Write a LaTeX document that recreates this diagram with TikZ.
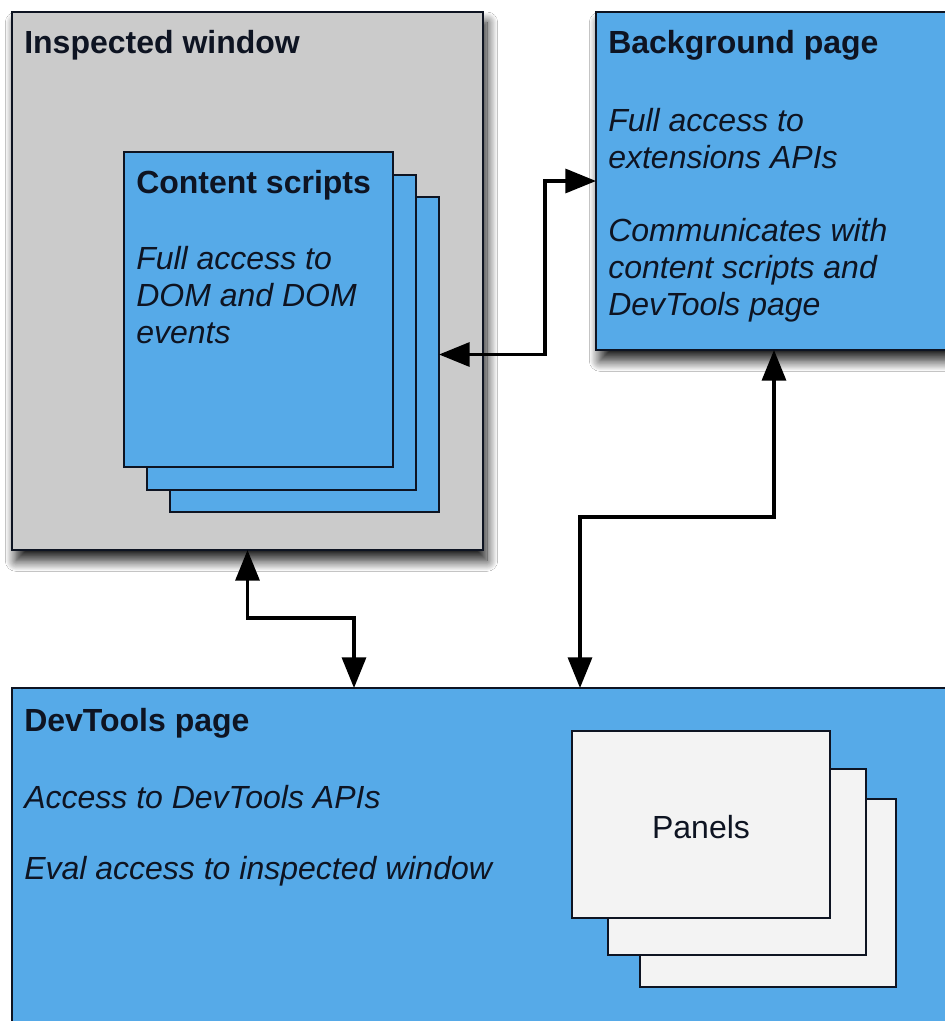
\documentclass[tikz,border=0pt]{standalone}
\usepackage{fontspec}
\setmainfont{Liberation Sans}
\usetikzlibrary{arrows.meta,shadows.blur,fit}
\definecolor{boxblue}{RGB}{86,170,232}
\definecolor{boxgray}{RGB}{203,203,203}
\definecolor{panelgray}{RGB}{243,243,243}
\definecolor{ink}{RGB}{14,20,34}
\begin{document}
\begin{tikzpicture}[x=0.75pt,y=-0.75pt,
  box/.style={draw=ink, line width=1.5pt, inner sep=0pt, outer sep=0pt},
  shad/.style={blur shadow={shadow xshift=3pt, shadow yshift=-8pt, shadow blur radius=8pt, shadow blur steps=16, shadow opacity=90}},
  title/.style={anchor=base west, inner sep=0pt, font=\fontsize{24}{28}\selectfont\bfseries, text=ink},
  desc/.style={anchor=base west, inner sep=0pt, font=\fontsize{24}{28}\selectfont\itshape, text=ink},
  plain/.style={inner sep=0pt, font=\fontsize{24}{28}\selectfont, text=ink},
  conn/.style={draw=black, line width=2.5pt, line join=miter,
    {Triangle[length=23pt,width=18pt]}-{Triangle[length=23pt,width=18pt]}}]
\path[use as bounding box] (0,0) rectangle (945,1021);
\clip (0,0) rectangle (945,1021);
\fill[white] (0,0) rectangle (945,1021);

% Inspected window
\coordinate (iw1) at (12,12); \coordinate (iw2) at (483,550);
\node[box, shad, fill=boxgray, fit=(iw1)(iw2)] (iw) {};
\node[title] (iwT) at (24,53) {Inspected window};

% Content scripts stack
\coordinate (c31) at (170,197); \coordinate (c32) at (439,512);
\node[box, fill=boxblue, fit=(c31)(c32)] (cs3) {};
\coordinate (c21) at (147,175); \coordinate (c22) at (416,490);
\node[box, fill=boxblue, fit=(c21)(c22)] (cs2) {};
\coordinate (c11) at (124,152); \coordinate (c12) at (393,467);
\node[box, fill=boxblue, fit=(c11)(c12)] (cs1) {};
\node[title] (csT) at (136,193) {Content scripts};
\node[desc] (csL1) at (136,269) {Full access to};
\node[desc] (csL2) at (136,306) {DOM and DOM};
\node[desc] (csL3) at (136,343) {events};

% Background page
\coordinate (bg1) at (596,12); \coordinate (bg2) at (952,350);
\node[box, shad, fill=boxblue, fit=(bg1)(bg2)] (bg) {};
\node[title] (bgT) at (608,53) {Background page};
\node[desc] (bgL1) at (608,131) {Full access to};
\node[desc] (bgL2) at (608,168) {extensions APIs};
\node[desc] (bgL3) at (608,241) {Communicates with};
\node[desc] (bgL4) at (608,278) {content scripts and};
\node[desc] (bgL5) at (608,315) {DevTools page};

% DevTools page
\coordinate (dt1) at (12,688); \coordinate (dt2) at (960,1035);
\node[box, fill=boxblue, fit=(dt1)(dt2)] (dt) {};
\node[title] (dtT) at (24,731) {DevTools page};
\node[desc] (dtL1) at (24,808) {Access to DevTools APIs};
\node[desc] (dtL2) at (24,879) {Eval access to inspected window};

% Panels stack
\coordinate (p31) at (640,799); \coordinate (p32) at (896,987);
\node[box, fill=panelgray, fit=(p31)(p32)] (p3) {};
\coordinate (p21) at (608,769); \coordinate (p22) at (866,955);
\node[box, fill=panelgray, fit=(p21)(p22)] (p2) {};
\coordinate (p11) at (572,731); \coordinate (p12) at (830,918);
\node[box, fill=panelgray, fit=(p11)(p12)] (p1) {};
\node[plain] (pT) at ([yshift=-2pt]p1.center) {Panels};

% Connectors
\coordinate (dtA) at (580,688);
\coordinate (dtB) at (354,688);
\draw[conn] (cs3.east) -- ++(106,0) |- (bg.west);
\draw[conn] (bg.south) -- ++(0,167) -| (dtA);
\draw[conn] (iw.south) -- ++(0,68) -| (dtB);
\end{tikzpicture}
\end{document}
